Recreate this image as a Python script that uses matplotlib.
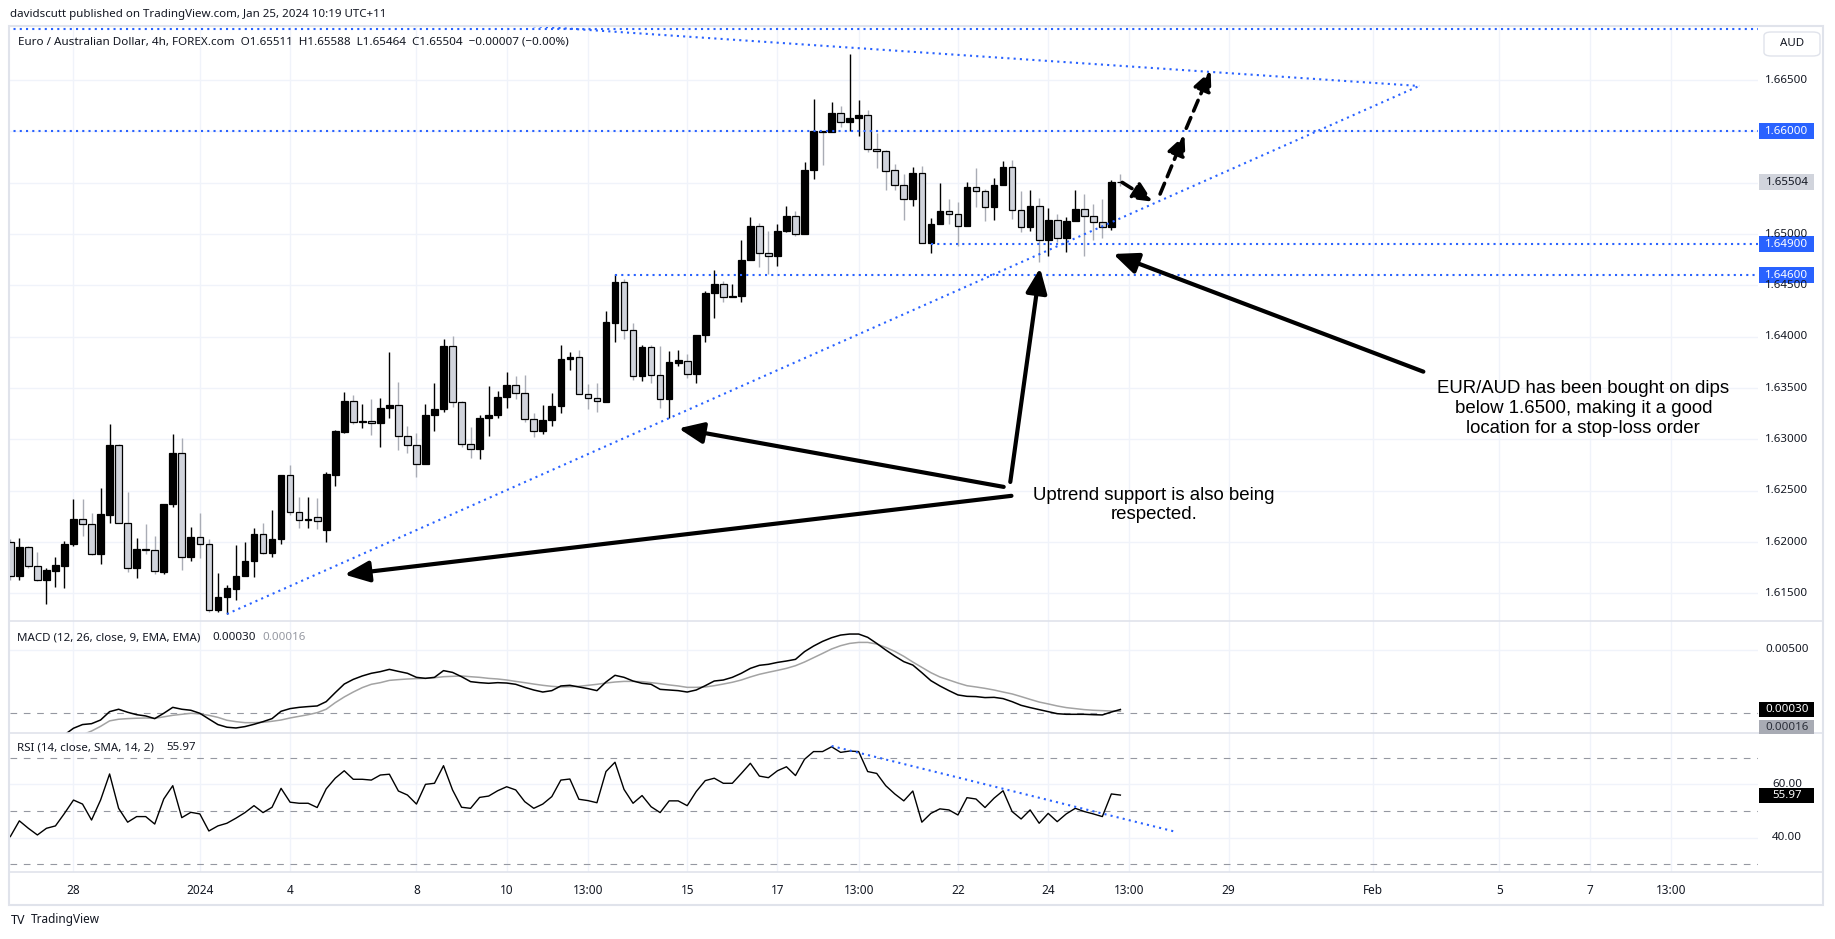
import numpy as np
import matplotlib.pyplot as plt
from matplotlib.patches import Rectangle, FancyBboxPatch
from matplotlib.lines import Line2D

W, H = 1835, 939
UI_FONT = ['Noto Sans', 'DejaVu Sans']
NOTE_FONT = ['Liberation Sans', 'DejaVu Sans']
TXT = '#131722'
BLUE = '#2962ff'
GRID = '#f0f3fa'
FRAME = '#e0e3eb'

# ---- 4h EUR/AUD candles ----
opens = [1.6200, 1.6167, 1.6195, 1.6177, 1.6163, 1.6172, 1.6177, 1.6198, 1.6223, 1.6218,
         1.6188, 1.6226, 1.6295, 1.6219, 1.6175, 1.6193, 1.6192, 1.6171, 1.6237, 1.6287,
         1.6186, 1.6205, 1.6198, 1.6134, 1.6147, 1.6154, 1.6167, 1.6182, 1.6208, 1.6189,
         1.6203, 1.6265, 1.6229, 1.6222, 1.6224, 1.6212, 1.6265, 1.6307, 1.6337, 1.6317,
         1.6318, 1.6316, 1.6331, 1.6334, 1.6303, 1.6295, 1.6276, 1.6324, 1.6330, 1.6391,
         1.6336, 1.6296, 1.6291, 1.6321, 1.6324, 1.6341, 1.6353, 1.6345, 1.6320, 1.6308,
         1.6319, 1.6333, 1.6378, 1.6380, 1.6344, 1.6340, 1.6336, 1.6413, 1.6453, 1.6407,
         1.6362, 1.6390, 1.6363, 1.6339, 1.6374, 1.6376, 1.6364, 1.6402, 1.6443, 1.6451,
         1.6439, 1.6440, 1.6475, 1.6508, 1.6482, 1.6479, 1.6503, 1.6518, 1.6500, 1.6562,
         1.6600, 1.6599, 1.6618, 1.6609, 1.6613, 1.6616, 1.6583, 1.6581, 1.6562, 1.6548,
         1.6534, 1.6559, 1.6491, 1.6510, 1.6522, 1.6520, 1.6508, 1.6546, 1.6542, 1.6526,
         1.6548, 1.6565, 1.6523, 1.6507, 1.6527, 1.6494, 1.6514, 1.6496, 1.6513, 1.6524,
         1.6518, 1.6512, 1.6507, 1.65511]
highs = [1.6203, 1.6204, 1.6196, 1.6190, 1.6175, 1.6186, 1.6201, 1.6242, 1.6242, 1.6228,
         1.6253, 1.6315, 1.6296, 1.6249, 1.6204, 1.6218, 1.6206, 1.6237, 1.6305, 1.6301,
         1.6215, 1.6228, 1.6203, 1.6170, 1.6158, 1.6197, 1.6200, 1.6214, 1.6219, 1.6231,
         1.6265, 1.6275, 1.6244, 1.6244, 1.6243, 1.6268, 1.6309, 1.6346, 1.6343, 1.6335,
         1.6339, 1.6340, 1.6385, 1.6356, 1.6313, 1.6306, 1.6335, 1.6355, 1.6398, 1.6401,
         1.6337, 1.6312, 1.6324, 1.6352, 1.6347, 1.6366, 1.6362, 1.6363, 1.6326, 1.6334,
         1.6345, 1.6392, 1.6385, 1.6387, 1.6354, 1.6355, 1.6425, 1.6461, 1.6456, 1.6413,
         1.6392, 1.6392, 1.6391, 1.6386, 1.6387, 1.6383, 1.6402, 1.6445, 1.6465, 1.6454,
         1.6451, 1.6494, 1.6517, 1.6511, 1.6503, 1.6510, 1.6527, 1.6522, 1.6570, 1.6632,
         1.6600, 1.6629, 1.6625, 1.6675, 1.6631, 1.6621, 1.6598, 1.6582, 1.6568, 1.6558,
         1.6565, 1.6566, 1.6516, 1.6550, 1.6534, 1.6531, 1.6551, 1.6564, 1.6544, 1.6555,
         1.6571, 1.6572, 1.6542, 1.6543, 1.6535, 1.6525, 1.6520, 1.6517, 1.6543, 1.6539,
         1.6529, 1.6534, 1.6553, 1.65588]
lows = [1.6163, 1.6163, 1.6175, 1.6162, 1.6140, 1.6156, 1.6155, 1.6196, 1.6206, 1.6187,
        1.6179, 1.6219, 1.6219, 1.6171, 1.6165, 1.6188, 1.6169, 1.6169, 1.6234, 1.6173,
        1.6182, 1.6185, 1.6132, 1.6132, 1.6130, 1.6144, 1.6167, 1.6166, 1.6188, 1.6186,
        1.6198, 1.6226, 1.6214, 1.6214, 1.6213, 1.6200, 1.6255, 1.6306, 1.6315, 1.6311,
        1.6304, 1.6293, 1.6321, 1.6290, 1.6287, 1.6263, 1.6276, 1.6308, 1.6327, 1.6332,
        1.6293, 1.6282, 1.6281, 1.6303, 1.6321, 1.6331, 1.6339, 1.6317, 1.6302, 1.6305,
        1.6313, 1.6326, 1.6368, 1.6344, 1.6330, 1.6327, 1.6336, 1.6395, 1.6398, 1.6358,
        1.6357, 1.6355, 1.6331, 1.6321, 1.6372, 1.6360, 1.6355, 1.6395, 1.6418, 1.6434,
        1.6439, 1.6434, 1.6475, 1.6468, 1.6461, 1.6469, 1.6502, 1.6498, 1.6500, 1.6554,
        1.6567, 1.6599, 1.6604, 1.6600, 1.6595, 1.6580, 1.6564, 1.6543, 1.6543, 1.6514,
        1.6527, 1.6491, 1.6482, 1.6510, 1.6510, 1.6488, 1.6508, 1.6526, 1.6513, 1.6514,
        1.6548, 1.6515, 1.6502, 1.6503, 1.6473, 1.6479, 1.6492, 1.6483, 1.6513, 1.6479,
        1.6494, 1.6496, 1.6504, 1.65464]
closes = [1.6167, 1.6195, 1.6177, 1.6163, 1.6173, 1.6178, 1.6198, 1.6223, 1.6218, 1.6188,
          1.6227, 1.6295, 1.6219, 1.6175, 1.6193, 1.6192, 1.6172, 1.6237, 1.6287, 1.6186,
          1.6205, 1.6198, 1.6134, 1.6147, 1.6155, 1.6167, 1.6182, 1.6208, 1.6189, 1.6203,
          1.6265, 1.6229, 1.6222, 1.6223, 1.6221, 1.6266, 1.6308, 1.6337, 1.6317, 1.6318,
          1.6316, 1.6331, 1.6334, 1.6303, 1.6295, 1.6276, 1.6324, 1.6330, 1.6391, 1.6336,
          1.6296, 1.6291, 1.6321, 1.6324, 1.6341, 1.6353, 1.6345, 1.6320, 1.6308, 1.6319,
          1.6333, 1.6378, 1.6380, 1.6344, 1.6340, 1.6337, 1.6414, 1.6453, 1.6407, 1.6362,
          1.6390, 1.6363, 1.6339, 1.6375, 1.6377, 1.6364, 1.6402, 1.6443, 1.6451, 1.6439,
          1.6440, 1.6475, 1.6508, 1.6482, 1.6479, 1.6503, 1.6518, 1.6500, 1.6562, 1.6600,
          1.6599, 1.6618, 1.6609, 1.6613, 1.6616, 1.6583, 1.6581, 1.6561, 1.6548, 1.6534,
          1.6559, 1.6491, 1.6510, 1.6522, 1.6520, 1.6508, 1.6546, 1.6542, 1.6526, 1.6548,
          1.6565, 1.6523, 1.6507, 1.6527, 1.6494, 1.6514, 1.6496, 1.6513, 1.6524, 1.6518,
          1.6512, 1.6507, 1.6551, 1.65504]

macd_line = [-0.0031, -0.0029, -0.0027, -0.0025, -0.0023, -0.0020, -0.0017, -0.00118, -0.00089, -0.00082,
             -0.00053, 0.00013, 0.00032, 0.00008, -0.00011, -0.00021, -0.00042, 0.0, 0.00047, 0.00032,
             0.00024, 0.0, -0.00045, -0.00089, -0.0011, -0.00116, -0.00105, -0.00087, -0.00066, -0.00042,
             0.00016, 0.00037, 0.00047, 0.00053, 0.00058, 0.00092, 0.00163, 0.00231, 0.00268, 0.00295,
             0.00316, 0.00329, 0.00347, 0.00331, 0.00316, 0.00284, 0.00276, 0.00284, 0.00337, 0.00323,
             0.00289, 0.0025, 0.00242, 0.00237, 0.00242, 0.00239, 0.00229, 0.00205, 0.00184, 0.00168,
             0.00179, 0.00216, 0.00221, 0.00208, 0.00195, 0.00179, 0.00247, 0.003, 0.00284, 0.00255,
             0.00237, 0.00229, 0.00189, 0.00184, 0.00179, 0.00168, 0.00184, 0.00218, 0.00255, 0.00263,
             0.00284, 0.00316, 0.00355, 0.00379, 0.00387, 0.00402, 0.00413, 0.00426, 0.00487, 0.00531,
             0.00568, 0.00597, 0.00618, 0.00626, 0.00626, 0.006, 0.00552, 0.005, 0.00452, 0.00408,
             0.00381, 0.00321, 0.00258, 0.00216, 0.00179, 0.00145, 0.00134, 0.00132, 0.00124, 0.00126,
             0.00116, 0.00092, 0.00063, 0.00045, 0.00029, 0.00013, -0.00003, -0.00008, -0.00008, -0.00008,
             -0.00011, -0.00013, 0.0001, 0.0003]
signal_line = [-0.0030, -0.0029, -0.0028, -0.0026, -0.0025, -0.0023, -0.0021, -0.0019, -0.0017, -0.0014,
               -0.00103, -0.0006, -0.00047, -0.00042, -0.00039, -0.00037, -0.0004, -0.00028, -0.00016, -0.00008,
               0.0, -0.00005, -0.00016, -0.00032, -0.00055, -0.00066, -0.00074, -0.00074, -0.00071, -0.00063,
               -0.00053, -0.00037, -0.00024, -0.00011, 0.00005, 0.00032, 0.00084, 0.00129, 0.00168, 0.00203,
               0.00229, 0.00242, 0.0026, 0.00266, 0.00271, 0.00274, 0.00276, 0.00281, 0.00289, 0.00292,
               0.00295, 0.00289, 0.00284, 0.00276, 0.00271, 0.00263, 0.00252, 0.00242, 0.00231, 0.00221,
               0.00213, 0.00208, 0.0021, 0.00213, 0.00221, 0.00229, 0.00239, 0.00247, 0.00252, 0.00252,
               0.0025, 0.00242, 0.00234, 0.00224, 0.00216, 0.00205, 0.00205, 0.00208, 0.00218, 0.00231,
               0.00245, 0.00263, 0.00287, 0.00308, 0.00324, 0.00339, 0.00355, 0.00376, 0.00405, 0.00439,
               0.00473, 0.00508, 0.00534, 0.00552, 0.0056, 0.0056, 0.00547, 0.00521, 0.00489, 0.0045,
               0.00405, 0.00363, 0.00321, 0.00287, 0.00263, 0.00239, 0.00218, 0.00208, 0.00197, 0.00184,
               0.00168, 0.00153, 0.00132, 0.0011, 0.00089, 0.00074, 0.00058, 0.00045, 0.00037, 0.00029,
               0.00024, 0.00021, 0.00018, 0.00016]
rsi = [40.4, 46.3, 43.5, 41.0, 43.5, 44.4, 49.1, 54.1, 52.6, 46.6,
       54.1, 63.9, 51.0, 45.8, 47.9, 47.9, 45.1, 54.5, 59.5, 47.5,
       49.5, 48.9, 42.5, 44.4, 45.4, 47.3, 49.4, 52.0, 49.4, 51.4,
       58.5, 53.3, 52.9, 52.9, 51.3, 58.3, 62.3, 65.1, 61.9, 61.9,
       61.6, 63.5, 63.8, 57.5, 56.0, 52.6, 60.0, 60.4, 67.0, 57.9,
       51.4, 51.0, 55.1, 55.6, 57.6, 59.1, 57.9, 53.5, 51.0, 52.6,
       55.4, 61.6, 62.0, 54.4, 53.9, 53.1, 64.8, 68.3, 58.1, 52.9,
       55.8, 51.6, 49.4, 53.8, 53.8, 52.0, 57.3, 61.4, 62.3, 60.4,
       60.4, 64.1, 67.9, 63.1, 62.5, 65.1, 66.6, 63.3, 69.4, 72.3,
       72.3, 74.1, 72.0, 72.5, 72.3, 64.8, 64.1, 59.5, 56.4, 53.8,
       57.5, 45.8, 49.1, 50.8, 50.4, 48.5, 55.0, 54.5, 51.3, 54.8,
       57.6, 49.8, 47.0, 50.4, 45.4, 49.1, 46.0, 48.9, 51.0, 49.8,
       48.9, 47.9, 56.4, 55.97]

tick_pos = [7, 21, 31, 45, 55, 64, 75, 85, 94, 105, 115, 124, 135, 151, 165, 175, 184]
tick_lab = ['28', '2024', '4', '8', '10', '13:00', '15', '17', '13:00', '22', '24', '13:00',
            '29', 'Feb', '5', '7', '13:00']
price_grid = [1.615, 1.620, 1.625, 1.630, 1.635, 1.640, 1.645, 1.650, 1.655, 1.660, 1.665]
price_ticks = [1.665, 1.650, 1.645, 1.640, 1.635, 1.630, 1.625, 1.620, 1.615]

# drawings on the chart (bar index, price)
level_prices = [1.6700, 1.6600, 1.6490, 1.6460]
level_starts = [-1, -1, 102, 67]
uptrend = ([24, 156.1], [1.6130, 1.66442])
downtrend = ([40, 156.1], [1.6713, 1.66442])
rsi_trend = ([91, 129.05], [74.4, 42.25])
forecast_legs = [((123.2, 1.65503), (126.6, 1.65315)),
                 ((127.4, 1.65390), (130.1, 1.65964)),
                 ((130.3, 1.66030), (133.0, 1.66591))]
note_arrows = [((110.07, 1.62538), (74.04, 1.63108)),
               ((110.93, 1.62451), (37.02, 1.61684)),
               ((110.8, 1.62586), (114.1, 1.64669)),
               ((156.57, 1.63660), (122.2, 1.64806))]

fig = plt.figure(figsize=(W / 100, H / 100), dpi=100)
fig.patch.set_facecolor('white')


def fx(px):
    return px / W


def fy(py):
    return 1 - py / H


LEFT, RIGHT = 9.6, 1758
XMAX = 193.65
ax = fig.add_axes([fx(LEFT), fy(620.5), fx(RIGHT) - fx(LEFT), (620.5 - 26) / H])
ax_m = fig.add_axes([fx(LEFT), fy(732.5), fx(RIGHT) - fx(LEFT), (732.5 - 620.5) / H])
ax_r = fig.add_axes([fx(LEFT), fy(872), fx(RIGHT) - fx(LEFT), (872 - 732.5) / H])
for a in (ax, ax_m, ax_r):
    a.set_xlim(-0.08, XMAX)
    a.axis('off')
    for t in tick_pos:
        a.axvline(t, color=GRID, lw=1, zorder=0)
ax.set_ylim(1.61237, 1.67026)
ax_m.set_ylim(-0.001517, 0.00733)
ax_r.set_ylim(27.1, 79.46)

# price pane
for g in price_grid:
    ax.axhline(g, color=GRID, lw=1, zorder=0)

o, h, l, c = map(np.array, (opens, highs, lows, closes))
x = np.arange(len(c))
up = c >= o
ax.vlines(x[up], l[up], h[up], color='black', lw=1, zorder=2)
ax.vlines(x[~up], l[~up], h[~up], color='#a9acb5', lw=1, zorder=2)
ax.bar(x, np.abs(c - o), bottom=np.minimum(o, c), width=0.74,
       color=np.where(up, 'black', '#d1d4dc'), edgecolor='black', linewidth=0.9, zorder=3)

dotted = dict(color=BLUE, lw=1.5, ls=(0, (1, 2)), zorder=4)
for lvl, start in zip(level_prices, level_starts):
    ax.plot([start, XMAX], [lvl, lvl], **dotted)
ax.plot(*uptrend, **dotted)
ax.plot(*downtrend, **dotted)

for (x0, y0), (x1, y1) in forecast_legs:
    ax.annotate('', xy=(x1, y1), xytext=(x0, y0), zorder=6,
                arrowprops=dict(arrowstyle='-|>,head_length=0.6,head_width=0.28', color='black',
                                lw=2.6, ls=(0, (3.2, 2.0)), mutation_scale=20, shrinkA=0, shrinkB=0))

for (x0, y0), (x1, y1) in note_arrows:
    ax.annotate('', xy=(x1, y1), xytext=(x0, y0), zorder=6,
                arrowprops=dict(arrowstyle='-|>,head_length=0.75,head_width=0.32', color='black',
                                lw=3, mutation_scale=20, shrinkA=0, shrinkB=0))

ax.text(126.7, 1.62362, 'Uptrend support is also being\nrespected.', ha='center', va='center',
        fontsize=13.4, family=NOTE_FONT, color='black', zorder=7)
ax.text(174.3, 1.63301, 'EUR/AUD has been bought on dips\nbelow 1.6500, making it a good\n'
        'location for a stop-loss order', ha='center', va='center',
        fontsize=13.4, family=NOTE_FONT, color='black', zorder=7)

# MACD pane
ax_m.axhline(0.005, color=GRID, lw=1, zorder=0)
ax_m.axhline(0, color='#9598a1', lw=0.8, ls=(0, (6, 6)), zorder=1)
ax_m.plot(x, signal_line, color='#a3a3a3', lw=1.1, zorder=2)
ax_m.plot(x, macd_line, color='black', lw=1.1, zorder=3)

# RSI pane
for g in (60, 40):
    ax_r.axhline(g, color=GRID, lw=1, zorder=0)
for g in (70, 50, 30):
    ax_r.axhline(g, color='#9598a1', lw=0.8, ls=(0, (6, 6)), zorder=1)
ax_r.plot(x, rsi, color='black', lw=1, zorder=3)
ax_r.plot(*rsi_trend, **dotted)


# ---- scale labels on the right ----
def ypx(a, v):
    return H - a.transData.transform((0, v))[1]


def scale_label(py, text, fc=None, tc=TXT, hgt=16):
    if fc:
        fig.add_artist(Rectangle((fx(1759), fy(py + hgt / 2)), fx(1814) - fx(1759), hgt / H,
                                 transform=fig.transFigure, fc=fc, ec='none', zorder=5))
    fig.text(fx(1787), fy(py), text, ha='center', va='center', fontsize=8.3, color=tc,
             family=UI_FONT, zorder=6)


for v in price_ticks:
    scale_label(ypx(ax, v), f'{v:.5f}')
scale_label(ypx(ax, 1.660), '1.66000', BLUE, 'white')
scale_label(ypx(ax, 1.65504), '1.65504', '#d1d4dc', TXT)
scale_label(ypx(ax, 1.649), '1.64900', BLUE, 'white')
scale_label(ypx(ax, 1.646), '1.64600', BLUE, 'white')

scale_label(ypx(ax_m, 0.005), '0.00500')
scale_label(ypx(ax_m, 0.0003), '0.00030', 'black', 'white', 15)
scale_label(727, '0.00016', '#a8abb4', '#2a2e39', 14)

scale_label(ypx(ax_r, 60), '60.00')
scale_label(ypx(ax_r, 40), '40.00')
scale_label(ypx(ax_r, 55.97), '55.97', 'black', 'white', 15)

fig.add_artist(FancyBboxPatch((fx(1764), fy(56)), fx(1820) - fx(1764), 24 / H,
                              boxstyle='round,pad=0,rounding_size=0.004', transform=fig.transFigure,
                              fc='white', ec=FRAME, lw=1, zorder=5))
fig.text(fx(1792), fy(44), 'AUD', ha='center', va='center', fontsize=8.3, color=TXT,
         family=UI_FONT, zorder=6)

# ---- time axis ----
for t, lab in zip(tick_pos, tick_lab):
    xd = ax_r.transData.transform((t, 0))[0] / W
    fig.text(xd, fy(890), lab, ha='center', va='center', fontsize=8.5, color=TXT,
             family=UI_FONT, weight='bold' if lab == '2024' else 'normal')

# ---- frame and pane separators ----
fig.add_artist(Rectangle((fx(9), fy(905)), fx(1823) - fx(9), (905 - 26) / H, fill=False,
                         ec=FRAME, lw=1.5, transform=fig.transFigure, zorder=4))
for py in (620.5, 732.5, 872):
    fig.add_artist(Line2D([fx(9), fx(1823)], [fy(py), fy(py)], color=FRAME, lw=1.2,
                          transform=fig.transFigure, zorder=4))

# ---- legends / header ----
fig.text(fx(10), fy(14), 'davidscutt published on TradingView.com, Jan 25, 2024 10:19 UTC+11',
         ha='left', va='center', fontsize=8.3, color=TXT, family=UI_FONT)
fig.text(fx(18), fy(42), 'Euro / Australian Dollar, 4h, FOREX.com  O1.65511  H1.65588  L1.65464  '
         'C1.65504  \u22120.00007 (\u22120.00%)', ha='left', va='center', fontsize=8.4, color=TXT,
         family=UI_FONT)
fig.text(fx(17), fy(638), 'MACD (12, 26, close, 9, EMA, EMA)', ha='left', va='center',
         fontsize=8.3, color=TXT, family=UI_FONT)
fig.text(fx(212), fy(638), '0.00030', ha='left', va='center', fontsize=8.3, color=TXT, family=UI_FONT)
fig.text(fx(262), fy(638), '0.00016', ha='left', va='center', fontsize=8.3, color='#9598a1',
         family=UI_FONT)
fig.text(fx(17), fy(748), 'RSI (14, close, SMA, 14, 2)', ha='left', va='center', fontsize=8.3,
         color=TXT, family=UI_FONT)
fig.text(fx(166), fy(748), '55.97', ha='left', va='center', fontsize=8.3, color=TXT, family=UI_FONT)

fig.text(fx(11), fy(920), 'TV', ha='left', va='center', fontsize=9, weight='bold', color=TXT,
         family=UI_FONT)
fig.text(fx(31), fy(920), 'TradingView', ha='left', va='center', fontsize=8.5, color=TXT,
         family=UI_FONT)

fig.savefig('out.png', dpi=100)
